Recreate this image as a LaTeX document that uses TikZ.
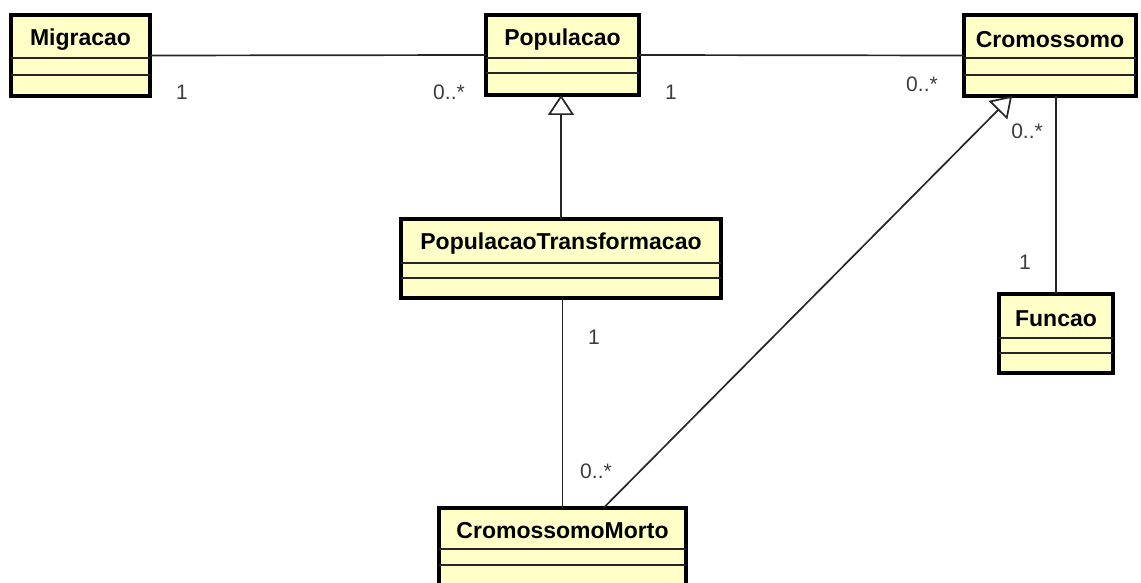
\documentclass[tikz,border=0pt]{standalone}
\usepackage{fontspec}
\setmainfont{Liberation Sans}
\usetikzlibrary{arrows.meta,calc}
\definecolor{clsfill}{RGB}{255,255,200}
\definecolor{lblgray}{RGB}{60,60,60}
\tikzset{
  cls/.style={draw=black, line width=4pt, fill=clsfill, rectangle, inner sep=0pt, outer sep=0pt},
  title/.style={font=\bfseries\fontsize{23}{27}\selectfont, inner sep=0pt, anchor=center},
  sepline/.style={draw=black!85, line width=1.5pt},
  conn/.style={draw=black!85, line width=1.7pt},
  gen/.style={conn, -{Triangle[open, length=20pt, width=26pt, line width=1.7pt, fill=white]}},
  lbl/.style={font=\fontsize{21}{25}\selectfont, text=lblgray, inner sep=0pt, anchor=center}
}
\begin{document}
\begin{tikzpicture}[x=1pt,y=-1pt]
\useasboundingbox (0,0) rectangle (1141,583);
\clip (0,0) rectangle (1141,583);
% classes
\node[cls, minimum width=139pt, minimum height=81pt] (mig) at (80.5,55.5) {};
\node[title] (migt) at ($(mig.north)+(0,25)$) {Migracao};
\draw[sepline] ($(mig.north west)+(0,43)$) -- ($(mig.north east)+(0,43)$);
\draw[sepline] ($(mig.north west)+(0,60)$) -- ($(mig.north east)+(0,60)$);

\node[cls, minimum width=153pt, minimum height=80pt] (pop) at (562.5,55) {};
\node[title] (popt) at ($(pop.north)+(0,25)$) {Populacao};
\draw[sepline] ($(pop.north west)+(0,43)$) -- ($(pop.north east)+(0,43)$);
\draw[sepline] ($(pop.north west)+(0,58)$) -- ($(pop.north east)+(0,58)$);

\node[cls, minimum width=172pt, minimum height=81pt] (crom) at (1050,55.5) {};
\node[title] (cromt) at ($(crom.north)+(0,25)$) {Cromossomo};
\draw[sepline] ($(crom.north west)+(0,43)$) -- ($(crom.north east)+(0,43)$);
\draw[sepline] ($(crom.north west)+(0,60)$) -- ($(crom.north east)+(0,60)$);

\node[cls, minimum width=320pt, minimum height=79pt] (pt) at (561,258.5) {};
\node[title] (ptt) at ($(pt.north)+(0,25)$) {PopulacaoTransformacao};
\draw[sepline] ($(pt.north west)+(0,44)$) -- ($(pt.north east)+(0,44)$);
\draw[sepline] ($(pt.north west)+(0,59)$) -- ($(pt.north east)+(0,59)$);

\node[cls, minimum width=247pt, minimum height=82pt] (cm) at (562.5,549) {};
\node[title] (cmt) at ($(cm.north)+(0,23)$) {CromossomoMorto};
\draw[sepline] ($(cm.north west)+(0,41)$) -- ($(cm.north east)+(0,41)$);
\draw[sepline] ($(cm.north west)+(0,57)$) -- ($(cm.north east)+(0,57)$);

\node[cls, minimum width=114pt, minimum height=79pt] (fun) at (1056,333.5) {};
\node[title] (funt) at ($(fun.north)+(0,25)$) {Funcao};
\draw[sepline] ($(fun.north west)+(0,44)$) -- ($(fun.north east)+(0,44)$);
\draw[sepline] ($(fun.north west)+(0,59)$) -- ($(fun.north east)+(0,59)$);

% connectors
\draw[conn] (mig.east) -- (pop.west);
\draw[conn] (pop.east) -- (crom.west);
\draw[conn] (fun.north) -- (fun.north |- crom.south);
\draw[gen] (pt.north) -- (pt.north |- pop.south);
\draw[conn] (cm.north) -- (cm.north |- pt.south);
\draw[gen] ($(cm.north)+(41,0)$) -- ($(crom.south west)+(48,0)$);

% multiplicities
\node[lbl] (l1) at (182,92) {1};
\node[lbl] (l2) at (449,92) {0..*};
\node[lbl] (l3) at (671,92) {1};
\node[lbl] (l4) at (922,84) {0..*};
\node[lbl] (l5) at (1027,131) {0..*};
\node[lbl] (l6) at (1025,262) {1};
\node[lbl] (l7) at (594,337) {1};
\node[lbl] (l8) at (596,471) {0..*};
\end{tikzpicture}
\end{document}
